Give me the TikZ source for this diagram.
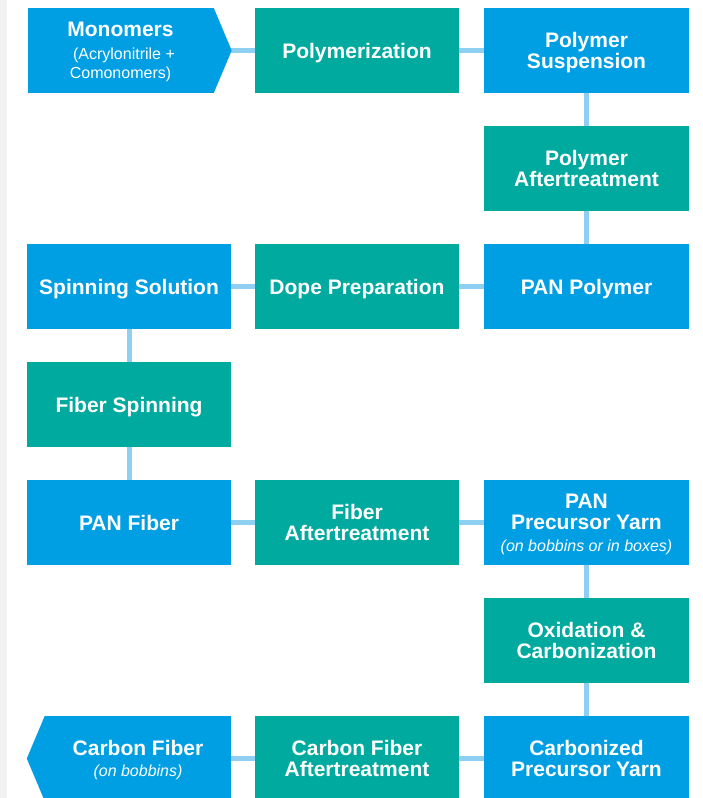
\documentclass[tikz,border=0pt]{standalone}
\usepackage{fontspec}
\setmainfont{Liberation Sans}
\usetikzlibrary{backgrounds}
\definecolor{cblue}{HTML}{009FE3}
\definecolor{cteal}{HTML}{00AA9E}
\definecolor{cline}{HTML}{8FD0F2}
\definecolor{cstrip}{HTML}{F2F2F2}
\newcommand{\subtxt}{\fontsize{16}{19}\selectfont\mdseries}
\newcommand{\ttltxt}{\fontsize{21}{21.5}\selectfont\bfseries}
\begin{document}
\begin{tikzpicture}[x=1pt,y=-1pt,
  box/.style={minimum width=204.5pt,minimum height=85pt,inner sep=0pt,align=center,text=white,text depth=0pt,font=\ttltxt},
  bluebox/.style={box,fill=cblue},
  tealbox/.style={box,fill=cteal},
  conn/.style={draw=cline,line width=5pt}]
\useasboundingbox (0,0) rectangle (703,798);
\fill[cstrip] (0,0) rectangle (7,798);
% row 1
\node[bluebox,minimum width=186pt,font=\subtxt] (mono) at (120.5,50.5)
  {{\ttltxt Monomers}\\[4.5pt]\hspace*{7pt}(Acrylonitrile +\\Comonomers)};
\fill[cblue] (mono.north east) -- ([xshift=18pt]mono.east) -- (mono.south east) -- cycle;
\node[tealbox] (poly) at (357,50.5) {Polymerization};
\node[bluebox] (susp) at (586.5,50.5) {Polymer\\Suspension};
% row 2
\node[tealbox] (paft) at (586.5,168.5) {Polymer\\Aftertreatment};
% row 3
\node[bluebox] (panp) at (586.5,286.5) {PAN Polymer};
\node[tealbox] (dope) at (357,286.5) {Dope Preparation};
\node[bluebox] (spin) at (129,286.5) {Spinning Solution};
% row 4
\node[tealbox] (fspin) at (129,404.5) {Fiber Spinning};
% row 5
\node[bluebox] (panf) at (129,522.5) {PAN Fiber};
\node[tealbox] (faft) at (357,522.5) {Fiber\\Aftertreatment};
\node[bluebox] (prec) at (586.5,522.5) {PAN\\Precursor Yarn\\{\subtxt\itshape (on bobbins or in boxes)}};
% row 6
\node[tealbox] (oxid) at (586.5,640.5) {Oxidation \&\\Carbonization};
% row 7
\node[bluebox] (carb) at (586.5,758.5) {Carbonized\\Precursor Yarn};
\node[tealbox] (cfaft) at (357,758.5) {Carbon Fiber\\Aftertreatment};
\node[bluebox,minimum width=186pt] (cf) at (138,758.5) {Carbon Fiber\\{\subtxt\itshape (on bobbins)}};
\fill[cblue] (cf.north west) -- ([xshift=-18pt]cf.west) -- (cf.south west) -- cycle;
% connectors
\begin{scope}[on background layer]
\draw[conn] (mono) -- (poly);
\draw[conn] (poly) -- (susp);
\draw[conn] (susp) -- (paft);
\draw[conn] (paft) -- (panp);
\draw[conn] (panp) -- (dope);
\draw[conn] (dope) -- (spin);
\draw[conn] (spin) -- (fspin);
\draw[conn] (fspin) -- (panf);
\draw[conn] (panf) -- (faft);
\draw[conn] (faft) -- (prec);
\draw[conn] (prec) -- (oxid);
\draw[conn] (oxid) -- (carb);
\draw[conn] (carb) -- (cfaft);
\draw[conn] (cfaft) -- (cf);
\end{scope}
\end{tikzpicture}
\end{document}
